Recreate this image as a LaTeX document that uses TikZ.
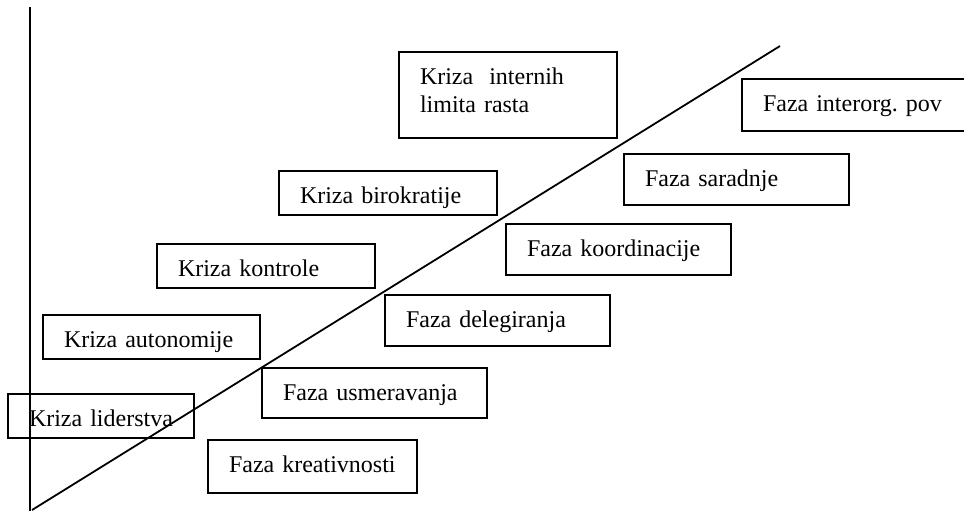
\documentclass[tikz,border=0pt]{standalone}
\usepackage{fontspec}
\setmainfont{Liberation Serif}
\tikzset{
  box/.style={draw=black,line width=1pt,anchor=north west,align=left,
    inner xsep=10.5pt,inner ysep=0pt,text height=16pt,
    font=\fontsize{12}{14}\selectfont}
}
\begin{document}
\begin{tikzpicture}[x=0.5pt,y=-0.5pt]
\useasboundingbox (0,0) rectangle (964,511);
% osa i linija rasta
\coordinate (o) at (30,511);
\coordinate (ytop) at (30,7);
\coordinate (d0) at (32,510);
\coordinate (d1) at (780,46);
\draw[line width=1pt](o)--(ytop);
\draw[line width=0.9pt](d0)--(d1);
% krize
\node[box,text width=72pt,text depth=6pt](kl) at (7,393){Kriza liderstva};
\node[box,text width=87.5pt,text depth=6pt](ka) at (42,314){Kriza autonomije};
\node[box,text width=88pt,text depth=6pt](kk) at (156,243){Kriza kontrole};
\node[box,text width=88pt,text depth=6pt](kb) at (278,170){Kriza birokratije};
\node[box,text width=88pt,text depth=27pt](ki) at (398,51){Kriza\ \ internih\\limita rasta};
% faze
\node[box,text width=83.5pt,text depth=10.5pt](fk) at (207,439){Faza kreativnosti};
\node[box,text width=91.5pt,text depth=9pt](fu) at (261,367){Faza usmeravanja};
\node[box,text width=91.5pt,text depth=9.5pt](fd) at (384,294){Faza delegiranja};
\node[box,text width=91.5pt,text depth=9.5pt](fko) at (505,223){Faza koordinacije};
\node[box,text width=91.5pt,text depth=9.5pt](fs) at (623,153){Faza saradnje};
\node[box,text width=96.5pt,text depth=10pt](fi) at (741,78){Faza interorg.\ pov};
\end{tikzpicture}
\end{document}
